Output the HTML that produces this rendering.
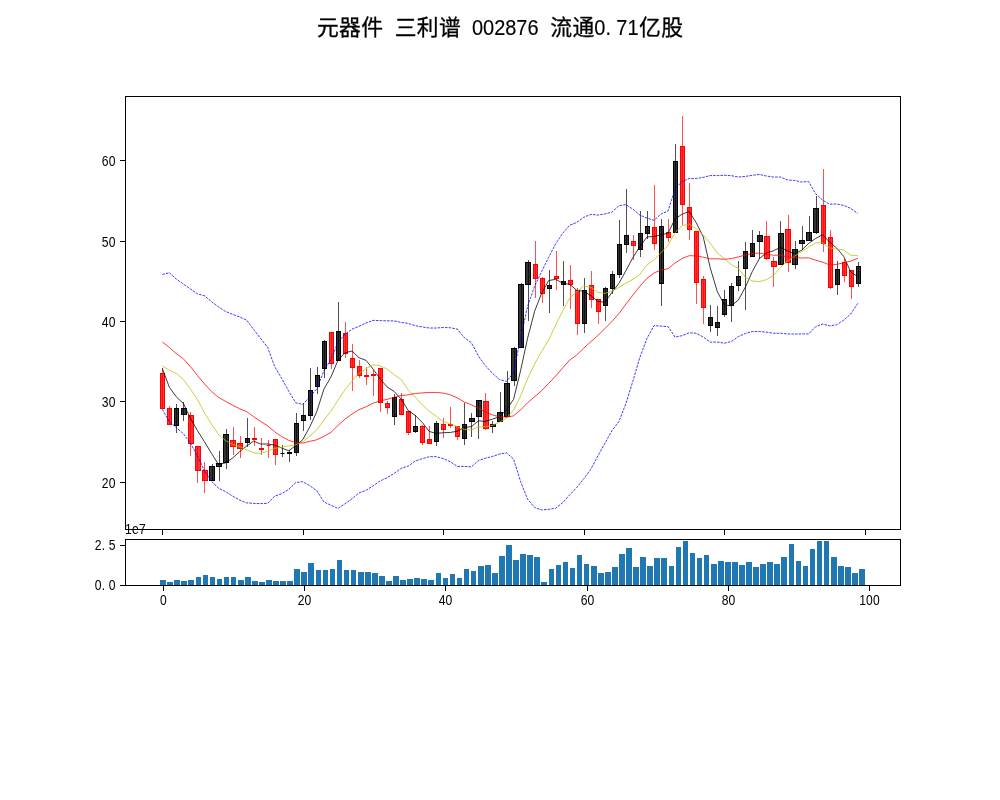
<!DOCTYPE html>
<html lang="zh"><head><meta charset="utf-8"><title>元器件 三利谱 002876 流通0.71亿股</title>
<style>
html,body{margin:0;padding:0;background:#fff;}
body{width:1000px;height:800px;overflow:hidden;}
svg{display:block;}
.cjk{font-family:"Liberation Sans","Noto Sans CJK SC",sans-serif;font-size:21.8px;letter-spacing:0.42px;fill:#000;stroke:#000;stroke-width:.3px;}
.dg{font-size:22.6px;letter-spacing:0;stroke-width:.15px;}
.tk{font-family:"Liberation Sans","Noto Sans CJK SC",sans-serif;font-size:13.8px;fill:#000;}
.ax{fill:none;stroke:#000;stroke-width:1;shape-rendering:crispEdges;}
.t{stroke:#000;stroke-width:1;shape-rendering:crispEdges;}
.wk{stroke:#000;stroke-width:.69;stroke-linecap:square;}
.wr{stroke:#f00;stroke-width:.69;stroke-linecap:square;}
.bk{fill:#000;fill-opacity:.8;stroke:#000;stroke-opacity:1;stroke-width:1;}
.br{fill:#f00;fill-opacity:.8;stroke:#f00;stroke-opacity:1;stroke-width:1;}
.ln{fill:none;stroke-width:.77;stroke-linejoin:round;}
.v{fill:#1f77b4;shape-rendering:crispEdges;}
</style></head><body>
<svg width="1000" height="800" viewBox="0 0 1000 800">
<rect width="1000" height="800" fill="#fff"/>

<g class="cjk">
<text x="316.88" y="35.2">元器件</text>
<text x="394.65" y="35.2">三利谱</text>
<text class="dg" x="471.93" y="34.900000000000006" textLength="66.66" lengthAdjust="spacingAndGlyphs">002876</text>
<text x="550.20" y="35.2">流通</text>
<text class="dg" transform="translate(594.13,35.2) scale(0.883,1)" x="0 12.98 25.16 37.75" y="0">0.71</text>
<text x="639.08" y="35.2">亿股</text>
</g>
<clipPath id="c1"><rect x="125" y="96" width="776" height="434"/></clipPath>
<g clip-path="url(#c1)">
<rect class="br" x="160.5" y="373.5" width="4.0" height="35.0"/>
<rect class="br" x="167.5" y="408.5" width="4.0" height="16.0"/>
<rect class="bk" x="174.5" y="408.5" width="4.0" height="17.0"/>
<rect class="bk" x="181.5" y="408.5" width="5.0" height="6.0"/>
<rect class="br" x="188.5" y="415.5" width="5.0" height="28.0"/>
<rect class="br" x="195.5" y="446.5" width="5.0" height="24.0"/>
<rect class="br" x="202.5" y="470.5" width="5.0" height="10.0"/>
<rect class="bk" x="209.5" y="466.5" width="5.0" height="14.0"/>
<rect class="bk" x="216.5" y="463.5" width="5.0" height="3.0"/>
<rect class="bk" x="223.5" y="434.5" width="5.0" height="28.0"/>
<rect class="br" x="230.5" y="440.5" width="5.0" height="6.0"/>
<rect class="br" x="237.5" y="443.5" width="5.0" height="5.0"/>
<rect class="bk" x="245.5" y="438.5" width="4.0" height="4.0"/>
<rect class="br" x="252.5" y="438.5" width="4.0" height="1.0"/>
<rect class="br" x="259.5" y="448.5" width="4.0" height="1.0"/>
<path class="br" d="M266.5,445.5H270.5"/>
<rect class="br" x="273.5" y="439.5" width="4.0" height="15.0"/>
<path class="bk" d="M280.5,453.5H284.5"/>
<rect class="bk" x="287.5" y="452.5" width="4.0" height="1.0"/>
<rect class="bk" x="294.5" y="423.5" width="4.0" height="29.0"/>
<rect class="bk" x="301.5" y="415.5" width="4.0" height="5.0"/>
<rect class="bk" x="308.5" y="390.5" width="4.0" height="25.0"/>
<rect class="bk" x="315.5" y="375.5" width="4.0" height="11.0"/>
<rect class="bk" x="322.5" y="341.5" width="4.0" height="27.0"/>
<rect class="br" x="329.5" y="332.5" width="4.0" height="31.0"/>
<rect class="bk" x="336.5" y="331.5" width="4.0" height="29.0"/>
<rect class="br" x="343.5" y="333.5" width="4.0" height="20.0"/>
<rect class="br" x="350.5" y="358.5" width="4.0" height="9.0"/>
<rect class="br" x="357.5" y="366.5" width="4.0" height="9.0"/>
<rect class="br" x="364.5" y="375.5" width="4.0" height="1.0"/>
<rect class="br" x="371.5" y="374.5" width="4.0" height="1.0"/>
<rect class="br" x="378.5" y="368.5" width="4.0" height="34.0"/>
<rect class="br" x="385.5" y="403.5" width="4.0" height="4.0"/>
<rect class="bk" x="392.5" y="397.5" width="4.0" height="19.0"/>
<rect class="br" x="399.5" y="399.5" width="4.0" height="15.0"/>
<rect class="br" x="406.5" y="411.5" width="4.0" height="21.0"/>
<rect class="bk" x="413.5" y="426.5" width="4.0" height="5.0"/>
<rect class="br" x="420.5" y="426.5" width="4.0" height="16.0"/>
<rect class="br" x="427.5" y="439.5" width="4.0" height="4.0"/>
<rect class="bk" x="434.5" y="423.5" width="4.0" height="18.0"/>
<rect class="br" x="441.5" y="424.5" width="4.0" height="5.0"/>
<rect class="br" x="448.5" y="424.5" width="4.0" height="1.0"/>
<rect class="br" x="455.5" y="426.5" width="4.0" height="10.0"/>
<rect class="bk" x="462.5" y="424.5" width="4.0" height="14.0"/>
<rect class="bk" x="469.5" y="418.5" width="5.0" height="3.0"/>
<rect class="bk" x="476.5" y="400.5" width="5.0" height="16.0"/>
<rect class="br" x="483.5" y="401.5" width="5.0" height="27.0"/>
<rect class="bk" x="490.5" y="424.5" width="5.0" height="2.0"/>
<rect class="bk" x="497.5" y="412.5" width="5.0" height="9.0"/>
<rect class="bk" x="504.5" y="383.5" width="5.0" height="33.0"/>
<rect class="bk" x="511.5" y="348.5" width="5.0" height="32.0"/>
<rect class="bk" x="518.5" y="284.5" width="5.0" height="63.0"/>
<rect class="bk" x="525.5" y="262.5" width="5.0" height="22.0"/>
<rect class="br" x="533.5" y="264.5" width="4.0" height="14.0"/>
<rect class="br" x="540.5" y="278.5" width="4.0" height="15.0"/>
<rect class="bk" x="547.5" y="285.5" width="4.0" height="3.0"/>
<rect class="br" x="554.5" y="276.5" width="4.0" height="2.0"/>
<rect class="bk" x="561.5" y="281.5" width="4.0" height="3.0"/>
<rect class="br" x="568.5" y="280.5" width="4.0" height="4.0"/>
<rect class="br" x="575.5" y="290.5" width="4.0" height="33.0"/>
<rect class="bk" x="582.5" y="290.5" width="4.0" height="33.0"/>
<rect class="br" x="589.5" y="285.5" width="4.0" height="14.0"/>
<rect class="br" x="596.5" y="299.5" width="4.0" height="12.0"/>
<rect class="bk" x="603.5" y="288.5" width="4.0" height="17.0"/>
<rect class="bk" x="610.5" y="274.5" width="4.0" height="14.0"/>
<rect class="bk" x="617.5" y="244.5" width="4.0" height="30.0"/>
<rect class="bk" x="624.5" y="235.5" width="4.0" height="9.0"/>
<rect class="br" x="631.5" y="241.5" width="4.0" height="4.0"/>
<rect class="bk" x="638.5" y="233.5" width="4.0" height="16.0"/>
<rect class="bk" x="645.5" y="226.5" width="4.0" height="7.0"/>
<rect class="br" x="652.5" y="227.5" width="4.0" height="16.0"/>
<rect class="bk" x="659.5" y="226.5" width="4.0" height="57.0"/>
<rect class="br" x="666.5" y="232.5" width="4.0" height="5.0"/>
<rect class="bk" x="673.5" y="161.5" width="4.0" height="71.0"/>
<rect class="br" x="680.5" y="146.5" width="4.0" height="58.0"/>
<rect class="br" x="687.5" y="207.5" width="4.0" height="22.0"/>
<rect class="br" x="694.5" y="231.5" width="4.0" height="51.0"/>
<rect class="br" x="701.5" y="279.5" width="4.0" height="28.0"/>
<rect class="bk" x="708.5" y="317.5" width="4.0" height="8.0"/>
<rect class="bk" x="715.5" y="322.5" width="4.0" height="5.0"/>
<rect class="bk" x="722.5" y="299.5" width="4.0" height="15.0"/>
<rect class="bk" x="729.5" y="286.5" width="4.0" height="19.0"/>
<rect class="bk" x="736.5" y="276.5" width="4.0" height="9.0"/>
<rect class="bk" x="743.5" y="251.5" width="4.0" height="17.0"/>
<rect class="bk" x="750.5" y="243.5" width="4.0" height="13.0"/>
<rect class="bk" x="757.5" y="235.5" width="5.0" height="6.0"/>
<rect class="br" x="764.5" y="236.5" width="5.0" height="22.0"/>
<rect class="br" x="771.5" y="261.5" width="5.0" height="5.0"/>
<rect class="bk" x="778.5" y="233.5" width="5.0" height="31.0"/>
<rect class="br" x="785.5" y="229.5" width="5.0" height="33.0"/>
<rect class="bk" x="792.5" y="249.5" width="5.0" height="15.0"/>
<rect class="bk" x="799.5" y="240.5" width="5.0" height="3.0"/>
<rect class="bk" x="806.5" y="232.5" width="5.0" height="8.0"/>
<rect class="bk" x="813.5" y="208.5" width="5.0" height="24.0"/>
<rect class="br" x="821.5" y="205.5" width="4.0" height="38.0"/>
<rect class="br" x="828.5" y="237.5" width="4.0" height="50.0"/>
<rect class="bk" x="835.5" y="269.5" width="4.0" height="15.0"/>
<rect class="br" x="842.5" y="262.5" width="4.0" height="13.0"/>
<rect class="br" x="849.5" y="270.5" width="4.0" height="16.0"/>
<rect class="bk" x="856.5" y="266.5" width="4.0" height="17.0"/>
<path class="wr" d="M162.5,368.5V408.5"/>
<path class="wr" d="M169.5,406.5V424.5"/>
<path class="wk" d="M176.5,404.5V432.5"/>
<path class="wk" d="M183.5,402.5V420.5"/>
<path class="wr" d="M190.5,412.5V455.5"/>
<path class="wr" d="M197.5,446.5V482.5"/>
<path class="wr" d="M204.5,462.5V492.5"/>
<path class="wk" d="M212.5,464.5V480.5"/>
<path class="wk" d="M219.5,451.5V480.5"/>
<path class="wk" d="M226.5,429.5V468.5"/>
<path class="wr" d="M233.5,427.5V454.5"/>
<path class="wr" d="M240.5,436.5V457.5"/>
<path class="wk" d="M247.5,418.5V446.5"/>
<path class="wr" d="M254.5,427.5V445.5"/>
<path class="wr" d="M261.5,438.5V454.5"/>
<path class="wr" d="M268.5,440.5V457.5"/>
<path class="wr" d="M275.5,439.5V464.5"/>
<path class="wk" d="M282.5,445.5V456.5"/>
<path class="wk" d="M289.5,450.5V461.5"/>
<path class="wk" d="M296.5,413.5V455.5"/>
<path class="wk" d="M303.5,403.5V430.5"/>
<path class="wk" d="M310.5,368.5V419.5"/>
<path class="wk" d="M317.5,367.5V393.5"/>
<path class="wk" d="M324.5,340.5V377.5"/>
<path class="wr" d="M331.5,332.5V368.5"/>
<path class="wk" d="M338.5,302.5V360.5"/>
<path class="wr" d="M345.5,322.5V357.5"/>
<path class="wr" d="M352.5,344.5V390.5"/>
<path class="wr" d="M359.5,360.5V377.5"/>
<path class="wr" d="M366.5,367.5V384.5"/>
<path class="wr" d="M373.5,370.5V395.5"/>
<path class="wr" d="M380.5,368.5V411.5"/>
<path class="wr" d="M387.5,401.5V413.5"/>
<path class="wk" d="M394.5,394.5V424.5"/>
<path class="wr" d="M401.5,393.5V414.5"/>
<path class="wr" d="M408.5,411.5V434.5"/>
<path class="wk" d="M415.5,415.5V432.5"/>
<path class="wr" d="M422.5,425.5V444.5"/>
<path class="wr" d="M429.5,426.5V443.5"/>
<path class="wk" d="M436.5,421.5V445.5"/>
<path class="wr" d="M443.5,418.5V437.5"/>
<path class="wr" d="M450.5,407.5V427.5"/>
<path class="wr" d="M457.5,426.5V439.5"/>
<path class="wk" d="M464.5,403.5V444.5"/>
<path class="wk" d="M471.5,413.5V436.5"/>
<path class="wk" d="M478.5,400.5V438.5"/>
<path class="wr" d="M485.5,393.5V429.5"/>
<path class="wk" d="M492.5,421.5V432.5"/>
<path class="wk" d="M500.5,392.5V421.5"/>
<path class="wk" d="M507.5,371.5V415.5"/>
<path class="wk" d="M514.5,347.5V385.5"/>
<path class="wk" d="M521.5,283.5V347.5"/>
<path class="wk" d="M528.5,260.5V320.5"/>
<path class="wr" d="M535.5,241.5V297.5"/>
<path class="wr" d="M542.5,277.5V302.5"/>
<path class="wk" d="M549.5,270.5V312.5"/>
<path class="wr" d="M556.5,251.5V289.5"/>
<path class="wk" d="M563.5,261.5V305.5"/>
<path class="wr" d="M570.5,265.5V308.5"/>
<path class="wr" d="M577.5,288.5V334.5"/>
<path class="wk" d="M584.5,278.5V332.5"/>
<path class="wr" d="M591.5,271.5V307.5"/>
<path class="wr" d="M598.5,299.5V323.5"/>
<path class="wk" d="M605.5,287.5V320.5"/>
<path class="wk" d="M612.5,271.5V293.5"/>
<path class="wk" d="M619.5,220.5V277.5"/>
<path class="wk" d="M626.5,189.5V252.5"/>
<path class="wr" d="M633.5,235.5V259.5"/>
<path class="wk" d="M640.5,211.5V256.5"/>
<path class="wk" d="M647.5,211.5V238.5"/>
<path class="wr" d="M654.5,185.5V249.5"/>
<path class="wk" d="M661.5,219.5V305.5"/>
<path class="wr" d="M668.5,219.5V241.5"/>
<path class="wk" d="M675.5,144.5V232.5"/>
<path class="wr" d="M682.5,116.5V224.5"/>
<path class="wr" d="M689.5,183.5V239.5"/>
<path class="wr" d="M696.5,231.5V303.5"/>
<path class="wr" d="M703.5,276.5V323.5"/>
<path class="wk" d="M710.5,305.5V331.5"/>
<path class="wk" d="M717.5,306.5V335.5"/>
<path class="wk" d="M724.5,290.5V316.5"/>
<path class="wk" d="M731.5,283.5V321.5"/>
<path class="wk" d="M738.5,261.5V290.5"/>
<path class="wk" d="M745.5,242.5V309.5"/>
<path class="wk" d="M752.5,230.5V256.5"/>
<path class="wk" d="M759.5,231.5V258.5"/>
<path class="wr" d="M766.5,221.5V259.5"/>
<path class="wr" d="M773.5,257.5V286.5"/>
<path class="wk" d="M780.5,221.5V264.5"/>
<path class="wr" d="M788.5,215.5V271.5"/>
<path class="wk" d="M795.5,241.5V268.5"/>
<path class="wk" d="M802.5,226.5V249.5"/>
<path class="wk" d="M809.5,216.5V240.5"/>
<path class="wk" d="M816.5,196.5V233.5"/>
<path class="wr" d="M823.5,169.5V251.5"/>
<path class="wr" d="M830.5,230.5V288.5"/>
<path class="wk" d="M837.5,261.5V294.5"/>
<path class="wr" d="M844.5,259.5V281.5"/>
<path class="wr" d="M851.5,270.5V298.5"/>
<path class="wk" d="M858.5,262.5V286.5"/>
<path class="ln" stroke="#000" d="M162.34,368.50 L169.36,387.30 L176.38,396.90 L183.41,403.50 L190.43,418.29 L197.46,430.61 L204.48,441.79 L211.51,453.43 L218.53,464.51 L225.55,462.85 L232.58,458.05 L239.60,451.67 L246.63,446.03 L253.65,441.13 L260.68,444.05 L267.70,443.94 L274.73,445.14 L281.75,448.10 L288.77,450.72 L295.80,445.56 L302.82,439.57 L309.85,426.85 L316.87,411.33 L323.90,389.15 L330.92,377.07 L337.94,360.29 L344.97,352.77 L351.99,351.05 L359.02,357.73 L366.04,360.35 L373.07,369.07 L380.09,378.87 L387.12,386.95 L394.14,391.43 L401.16,399.03 L408.19,410.49 L415.21,415.39 L422.24,422.37 L429.26,431.51 L436.29,433.35 L443.31,432.73 L450.33,432.45 L457.36,431.21 L464.38,427.53 L471.41,426.59 L478.43,420.83 L485.46,421.41 L492.48,419.15 L499.51,416.77 L506.53,409.71 L513.55,399.33 L520.58,370.65 L527.60,338.19 L534.63,311.23 L541.65,293.17 L548.68,280.57 L555.70,279.31 L562.72,283.15 L569.75,284.39 L576.77,290.39 L583.80,291.39 L590.82,295.55 L597.85,301.43 L604.87,302.27 L611.90,292.53 L618.92,283.33 L625.94,270.61 L632.97,257.39 L639.99,246.45 L647.02,236.89 L654.04,236.57 L661.07,234.77 L668.09,233.17 L675.11,218.75 L682.14,214.23 L689.16,211.45 L696.19,222.61 L703.21,236.67 L710.24,267.87 L717.26,291.45 L724.29,304.95 L731.31,305.79 L738.33,300.13 L745.36,287.13 L752.38,271.39 L759.41,258.59 L766.43,252.89 L773.46,250.81 L780.48,247.23 L787.50,250.91 L794.53,253.71 L801.55,250.23 L808.58,243.51 L815.60,238.51 L822.63,234.71 L829.65,242.19 L836.68,247.99 L843.70,256.45 L850.72,271.91 L857.75,276.65"/>
<path class="ln" stroke="#bfbf00" d="M162.34,366.10 L169.36,370.30 L176.38,373.30 L183.41,379.70 L190.43,389.10 L197.46,399.50 L204.48,412.90 L211.51,424.10 L218.53,434.50 L225.55,440.57 L232.58,444.33 L239.60,446.73 L246.63,449.73 L253.65,452.82 L260.68,453.45 L267.70,450.99 L274.73,448.41 L281.75,447.06 L288.77,445.92 L295.80,444.81 L302.82,441.75 L309.85,436.00 L316.87,429.71 L323.90,419.93 L330.92,411.31 L337.94,399.93 L344.97,389.81 L351.99,381.19 L359.02,373.44 L366.04,368.71 L373.07,364.68 L380.09,365.82 L387.12,369.00 L394.14,374.58 L401.16,379.69 L408.19,389.78 L415.21,397.13 L422.24,404.66 L429.26,411.47 L436.29,416.19 L443.31,421.61 L450.33,423.92 L457.36,426.79 L464.38,429.52 L471.41,429.97 L478.43,426.78 L485.46,426.93 L492.48,425.18 L499.51,422.15 L506.53,418.15 L513.55,410.08 L520.58,396.03 L527.60,378.67 L534.63,364.00 L541.65,351.44 L548.68,339.95 L555.70,324.98 L562.72,310.67 L569.75,297.81 L576.77,291.78 L583.80,285.98 L590.82,287.43 L597.85,292.29 L604.87,293.33 L611.90,291.46 L618.92,287.36 L625.94,283.08 L632.97,279.41 L639.99,274.36 L647.02,264.71 L654.04,259.95 L661.07,252.69 L668.09,245.28 L675.11,232.60 L682.14,225.56 L689.16,224.01 L696.19,228.69 L703.21,234.92 L710.24,243.31 L717.26,252.89 L724.29,258.55 L731.31,264.55 L738.33,268.50 L745.36,277.40 L752.38,280.97 L759.41,281.62 L766.43,279.59 L773.46,275.57 L780.48,267.18 L787.50,261.15 L794.53,256.15 L801.55,251.56 L808.58,247.16 L815.60,242.87 L822.63,242.81 L829.65,247.95 L836.68,249.11 L843.70,249.98 L850.72,255.21 L857.75,255.68"/>
<path class="ln" stroke="#f00" d="M162.34,341.90 L169.36,347.50 L176.38,353.70 L183.41,358.90 L190.43,366.60 L197.46,375.50 L204.48,383.90 L211.51,391.40 L218.53,397.30 L225.55,401.40 L232.58,405.20 L239.60,408.70 L246.63,411.60 L253.65,416.70 L260.68,421.40 L267.70,425.80 L274.73,431.80 L281.75,436.60 L288.77,440.40 L295.80,442.69 L302.82,443.04 L309.85,441.36 L316.87,439.72 L323.90,436.38 L330.92,432.38 L337.94,425.46 L344.97,419.11 L351.99,414.13 L359.02,409.68 L366.04,406.76 L373.07,403.22 L380.09,400.91 L387.12,399.36 L394.14,397.26 L401.16,395.50 L408.19,394.85 L415.21,393.47 L422.24,392.93 L429.26,392.45 L436.29,392.45 L443.31,393.14 L450.33,394.87 L457.36,397.89 L464.38,402.05 L471.41,404.83 L478.43,408.28 L485.46,412.03 L492.48,414.92 L499.51,416.81 L506.53,417.17 L513.55,415.85 L520.58,409.97 L527.60,402.73 L534.63,396.76 L541.65,390.70 L548.68,383.36 L555.70,375.95 L562.72,367.93 L569.75,359.98 L576.77,354.96 L583.80,348.03 L590.82,341.73 L597.85,335.48 L604.87,328.67 L611.90,321.45 L618.92,313.66 L625.94,304.03 L632.97,295.04 L639.99,286.08 L647.02,278.24 L654.04,272.96 L661.07,270.06 L668.09,268.78 L675.11,262.96 L682.14,258.51 L689.16,255.68 L696.19,255.88 L703.21,257.17 L710.24,258.83 L717.26,258.80 L724.29,259.25 L731.31,258.62 L738.33,256.89 L745.36,255.05 L752.38,253.51 L759.41,253.06 L766.43,254.19 L773.46,255.24 L780.48,255.24 L787.50,257.02 L794.53,257.35 L801.55,258.06 L808.58,257.83 L815.60,260.19 L822.63,262.14 L829.65,265.03 L836.68,264.40 L843.70,262.77 L850.72,261.19 L857.75,258.42"/>
<path class="ln" stroke="#00f" stroke-dasharray="2.57 1.11" d="M162.34,274.50 L169.36,272.70 L176.38,279.10 L183.41,284.10 L190.43,288.90 L197.46,293.90 L204.48,295.70 L211.51,301.70 L218.53,306.90 L225.55,311.50 L232.58,314.30 L239.60,316.90 L246.63,320.10 L253.65,329.50 L260.68,338.50 L267.70,347.50 L274.73,366.70 L281.75,378.50 L288.77,391.30 L295.80,402.87 L302.82,404.35 L309.85,397.01 L316.87,388.68 L323.90,370.82 L330.92,359.53 L337.94,342.33 L344.97,334.19 L351.99,329.22 L359.02,326.32 L366.04,322.97 L373.07,320.34 L380.09,320.63 L387.12,320.85 L394.14,320.91 L401.16,322.46 L408.19,323.38 L415.21,325.67 L422.24,326.90 L429.26,328.02 L436.29,328.02 L443.31,327.46 L450.33,327.75 L457.36,329.12 L464.38,337.74 L471.41,342.77 L478.43,356.05 L485.46,365.84 L492.48,373.40 L499.51,379.55 L506.53,381.39 L513.55,372.70 L520.58,338.30 L527.60,306.38 L534.63,286.04 L541.65,271.49 L548.68,257.40 L555.70,243.69 L562.72,233.24 L569.75,225.16 L576.77,222.48 L583.80,217.29 L590.82,214.32 L597.85,215.10 L604.87,213.91 L611.90,212.17 L618.92,205.76 L625.94,204.59 L632.97,209.27 L639.99,215.15 L647.02,218.12 L654.04,220.35 L661.07,214.00 L668.09,210.95 L675.11,188.79 L682.14,181.40 L689.16,178.59 L696.19,178.54 L703.21,177.36 L710.24,175.53 L717.26,175.60 L724.29,175.28 L731.31,175.67 L738.33,176.99 L745.36,176.43 L752.38,175.25 L759.41,174.49 L766.43,176.02 L773.46,177.04 L780.48,177.04 L787.50,179.91 L794.53,180.43 L801.55,182.03 L808.58,181.53 L815.60,193.66 L822.63,200.23 L829.65,204.20 L836.68,204.03 L843.70,205.42 L850.72,208.38 L857.75,213.45"/>
<path class="ln" stroke="#00f" stroke-dasharray="2.57 1.11" d="M162.34,409.30 L169.36,421.70 L176.38,427.70 L183.41,433.70 L190.43,443.30 L197.46,455.70 L204.48,470.90 L211.51,481.30 L218.53,488.10 L225.55,491.70 L232.58,496.10 L239.60,500.10 L246.63,502.90 L253.65,503.40 L260.68,503.60 L267.70,503.30 L274.73,496.10 L281.75,493.70 L288.77,489.30 L295.80,482.51 L302.82,481.73 L309.85,485.71 L316.87,490.77 L323.90,501.94 L330.92,505.24 L337.94,508.40 L344.97,503.83 L351.99,498.84 L359.02,492.85 L366.04,490.35 L373.07,485.89 L380.09,480.99 L387.12,477.67 L394.14,473.41 L401.16,468.34 L408.19,466.13 L415.21,461.07 L422.24,458.75 L429.26,456.69 L436.29,456.68 L443.31,458.63 L450.33,461.79 L457.36,466.47 L464.38,466.36 L471.41,466.89 L478.43,460.51 L485.46,458.22 L492.48,456.44 L499.51,454.07 L506.53,452.95 L513.55,458.99 L520.58,481.65 L527.60,499.08 L534.63,507.48 L541.65,509.92 L548.68,509.33 L555.70,508.22 L562.72,502.61 L569.75,494.80 L576.77,487.45 L583.80,478.77 L590.82,469.14 L597.85,455.86 L604.87,443.42 L611.90,430.73 L618.92,421.55 L625.94,403.47 L632.97,380.81 L639.99,357.02 L647.02,338.37 L654.04,325.58 L661.07,326.12 L668.09,326.62 L675.11,337.14 L682.14,335.62 L689.16,332.78 L696.19,333.23 L703.21,336.97 L710.24,342.14 L717.26,342.00 L724.29,343.22 L731.31,341.57 L738.33,336.59 L745.36,333.47 L752.38,331.58 L759.41,331.44 L766.43,332.16 L773.46,333.25 L780.48,333.25 L787.50,333.93 L794.53,334.07 L801.55,333.88 L808.58,333.93 L815.60,326.71 L822.63,324.05 L829.65,325.87 L836.68,324.77 L843.70,320.13 L850.72,314.01 L857.75,303.38"/>
</g>
<rect class="ax" x="125.5" y="96.5" width="775" height="433"/>
<path class="t" d="M120,160.5H125"/>
<text class="tk" transform="translate(101.71,166.00) scale(0.88,1)" x="0.11 8.00" y="0">60</text>
<path class="t" d="M120,241.5H125"/>
<text class="tk" transform="translate(101.71,247.00) scale(0.88,1)" x="0.11 8.00" y="0">50</text>
<path class="t" d="M120,321.5H125"/>
<text class="tk" transform="translate(101.71,327.00) scale(0.88,1)" x="0.11 8.00" y="0">40</text>
<path class="t" d="M120,401.5H125"/>
<text class="tk" transform="translate(101.71,407.00) scale(0.88,1)" x="0.11 8.00" y="0">30</text>
<path class="t" d="M120,482.5H125"/>
<text class="tk" transform="translate(101.71,488.00) scale(0.88,1)" x="0.11 8.00" y="0">20</text>
<path class="t" d="M162.5,530V535"/>
<path class="t" d="M303.5,530V535"/>
<path class="t" d="M443.5,530V535"/>
<path class="t" d="M584.5,530V535"/>
<path class="t" d="M724.5,530V535"/>
<path class="t" d="M865.5,530V535"/>
<rect class="v" x="160" y="580" width="6" height="5"/>
<rect class="v" x="167" y="582" width="6" height="3"/>
<rect class="v" x="174" y="580" width="6" height="5"/>
<rect class="v" x="181" y="581" width="6" height="4"/>
<rect class="v" x="188" y="580" width="6" height="5"/>
<rect class="v" x="196" y="577" width="5" height="8"/>
<rect class="v" x="203" y="575" width="5" height="10"/>
<rect class="v" x="210" y="577" width="5" height="8"/>
<rect class="v" x="217" y="579" width="5" height="6"/>
<rect class="v" x="224" y="577" width="5" height="8"/>
<rect class="v" x="231" y="577" width="5" height="8"/>
<rect class="v" x="238" y="580" width="6" height="5"/>
<rect class="v" x="245" y="577" width="6" height="8"/>
<rect class="v" x="252" y="581" width="6" height="4"/>
<rect class="v" x="259" y="582" width="6" height="3"/>
<rect class="v" x="266" y="580" width="6" height="5"/>
<rect class="v" x="273" y="581" width="6" height="4"/>
<rect class="v" x="280" y="581" width="6" height="4"/>
<rect class="v" x="287" y="581" width="6" height="4"/>
<rect class="v" x="294" y="569" width="6" height="16"/>
<rect class="v" x="301" y="572" width="6" height="13"/>
<rect class="v" x="308" y="563" width="6" height="22"/>
<rect class="v" x="316" y="570" width="5" height="15"/>
<rect class="v" x="323" y="570" width="5" height="15"/>
<rect class="v" x="330" y="569" width="5" height="16"/>
<rect class="v" x="337" y="560" width="5" height="25"/>
<rect class="v" x="344" y="570" width="5" height="15"/>
<rect class="v" x="351" y="570" width="5" height="15"/>
<rect class="v" x="358" y="572" width="6" height="13"/>
<rect class="v" x="365" y="572" width="6" height="13"/>
<rect class="v" x="372" y="573" width="6" height="12"/>
<rect class="v" x="379" y="576" width="6" height="9"/>
<rect class="v" x="386" y="581" width="6" height="4"/>
<rect class="v" x="393" y="576" width="6" height="9"/>
<rect class="v" x="400" y="580" width="6" height="5"/>
<rect class="v" x="407" y="579" width="6" height="6"/>
<rect class="v" x="414" y="578" width="6" height="7"/>
<rect class="v" x="421" y="579" width="6" height="6"/>
<rect class="v" x="428" y="580" width="6" height="5"/>
<rect class="v" x="436" y="573" width="5" height="12"/>
<rect class="v" x="443" y="578" width="5" height="7"/>
<rect class="v" x="450" y="574" width="5" height="11"/>
<rect class="v" x="457" y="578" width="5" height="7"/>
<rect class="v" x="464" y="569" width="5" height="16"/>
<rect class="v" x="471" y="571" width="5" height="14"/>
<rect class="v" x="478" y="566" width="6" height="19"/>
<rect class="v" x="485" y="565" width="6" height="20"/>
<rect class="v" x="492" y="573" width="6" height="12"/>
<rect class="v" x="499" y="556" width="6" height="29"/>
<rect class="v" x="506" y="545" width="6" height="40"/>
<rect class="v" x="513" y="560" width="6" height="25"/>
<rect class="v" x="520" y="554" width="6" height="31"/>
<rect class="v" x="527" y="555" width="6" height="30"/>
<rect class="v" x="534" y="557" width="6" height="28"/>
<rect class="v" x="541" y="582" width="6" height="3"/>
<rect class="v" x="549" y="569" width="5" height="16"/>
<rect class="v" x="556" y="565" width="5" height="20"/>
<rect class="v" x="563" y="562" width="5" height="23"/>
<rect class="v" x="570" y="568" width="5" height="17"/>
<rect class="v" x="577" y="555" width="5" height="30"/>
<rect class="v" x="584" y="564" width="5" height="21"/>
<rect class="v" x="591" y="566" width="6" height="19"/>
<rect class="v" x="598" y="573" width="6" height="12"/>
<rect class="v" x="605" y="572" width="6" height="13"/>
<rect class="v" x="612" y="567" width="6" height="18"/>
<rect class="v" x="619" y="554" width="6" height="31"/>
<rect class="v" x="626" y="548" width="6" height="37"/>
<rect class="v" x="633" y="567" width="6" height="18"/>
<rect class="v" x="640" y="557" width="6" height="28"/>
<rect class="v" x="647" y="566" width="6" height="19"/>
<rect class="v" x="654" y="558" width="6" height="27"/>
<rect class="v" x="661" y="558" width="6" height="27"/>
<rect class="v" x="669" y="566" width="5" height="19"/>
<rect class="v" x="676" y="547" width="5" height="38"/>
<rect class="v" x="683" y="541" width="5" height="44"/>
<rect class="v" x="690" y="553" width="5" height="32"/>
<rect class="v" x="697" y="558" width="5" height="27"/>
<rect class="v" x="704" y="555" width="5" height="30"/>
<rect class="v" x="711" y="564" width="6" height="21"/>
<rect class="v" x="718" y="561" width="6" height="24"/>
<rect class="v" x="725" y="562" width="6" height="23"/>
<rect class="v" x="732" y="562" width="6" height="23"/>
<rect class="v" x="739" y="565" width="6" height="20"/>
<rect class="v" x="746" y="562" width="6" height="23"/>
<rect class="v" x="753" y="567" width="6" height="18"/>
<rect class="v" x="760" y="564" width="6" height="21"/>
<rect class="v" x="767" y="562" width="6" height="23"/>
<rect class="v" x="774" y="564" width="6" height="21"/>
<rect class="v" x="781" y="557" width="6" height="28"/>
<rect class="v" x="789" y="544" width="5" height="41"/>
<rect class="v" x="796" y="561" width="5" height="24"/>
<rect class="v" x="803" y="566" width="5" height="19"/>
<rect class="v" x="810" y="549" width="5" height="36"/>
<rect class="v" x="817" y="541" width="5" height="44"/>
<rect class="v" x="824" y="541" width="5" height="44"/>
<rect class="v" x="831" y="557" width="6" height="28"/>
<rect class="v" x="838" y="566" width="6" height="19"/>
<rect class="v" x="845" y="567" width="6" height="18"/>
<rect class="v" x="852" y="573" width="6" height="12"/>
<rect class="v" x="859" y="569" width="6" height="16"/>
<rect class="ax" x="125.5" y="539.5" width="775" height="46"/>
<path class="t" d="M163.5,586V591"/>
<text class="tk" transform="translate(160.03,605.00) scale(0.88,1)" x="0.11" y="0">0</text>
<path class="t" d="M304.5,586V591"/>
<text class="tk" transform="translate(297.56,605.00) scale(0.88,1)" x="0.11 8.00" y="0">20</text>
<path class="t" d="M445.5,586V591"/>
<text class="tk" transform="translate(438.56,605.00) scale(0.88,1)" x="0.11 8.00" y="0">40</text>
<path class="t" d="M587.5,586V591"/>
<text class="tk" transform="translate(580.55,605.00) scale(0.88,1)" x="0.11 8.00" y="0">60</text>
<path class="t" d="M728.5,586V591"/>
<text class="tk" transform="translate(721.55,605.00) scale(0.88,1)" x="0.11 8.00" y="0">80</text>
<path class="t" d="M869.5,586V591"/>
<text class="tk" transform="translate(859.08,605.00) scale(0.88,1)" x="0.11 8.00 15.89" y="0">100</text>
<path class="t" d="M120,545.5H125"/>
<text class="tk" transform="translate(94.76,550.10) scale(0.88,1)" x="0.11 8.00 15.89" y="0">2.5</text>
<path class="t" d="M120,585.5H125"/>
<text class="tk" transform="translate(94.76,590.10) scale(0.88,1)" x="0.11 8.00 15.89" y="0">0.0</text>
<text class="tk" transform="translate(125.00,534.20) scale(0.88,1)" x="0.11 8.00 15.89" y="0">1e7</text>
</svg></body></html>
